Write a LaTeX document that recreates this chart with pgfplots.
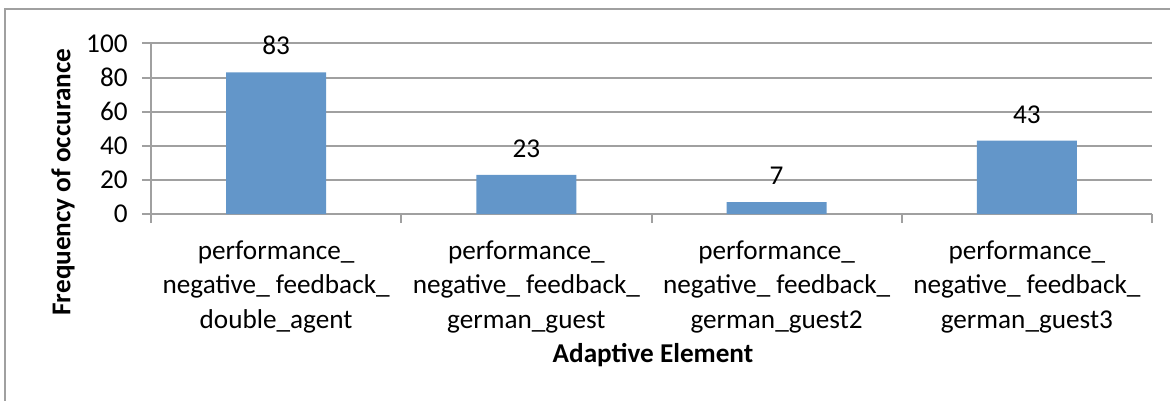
\documentclass[border=0pt]{standalone}
\usepackage{fontspec}
\setmainfont{Carlito}
\usepackage{pgfplots}
\pgfplotsset{compat=1.18}
\definecolor{barblue}{RGB}{99,150,201}
\definecolor{gridgray}{RGB}{160,160,160}
\begin{document}
\fontsize{13.6bp}{17.25bp}\selectfont
\begin{tikzpicture}
\useasboundingbox (-75.5bp,-93.5bp) rectangle (509.5bp,107bp);
\draw[gridgray, line width=1bp] (-73bp,-100bp) -- (-73bp,102.5bp) -- (520bp,102.5bp);
\begin{axis}[
    at={(0,0)}, anchor=south west,
    width=500.5bp, height=85.25bp, scale only axis,
    xmin=0.5, xmax=4.5, ymin=0, ymax=100,
    axis x line*=bottom, axis y line*=left,
    axis line style={gridgray, line width=1bp},
    every tick/.style={gridgray, line width=1bp},
    tick align=outside, major tick length=4.5bp,
    ymajorgrids, grid style={gridgray, line width=1bp},
    ytick={0,20,40,60,80,100},
    xtick={0.5,1.5,2.5,3.5,4.5}, xticklabels={},
    extra x ticks={1,2,3,4},
    extra x tick labels={performance\_\\negative\_ feedback\_\\double\_agent,
        performance\_\\negative\_ feedback\_\\german\_guest,
        performance\_\\negative\_ feedback\_\\german\_guest2,
        performance\_\\negative\_ feedback\_\\german\_guest3},
    extra x tick style={major tick length=0pt},
    xticklabel style={align=center, anchor=north, inner sep=0pt, yshift=-13bp,
        font=\fontsize{13.6bp}{17.25bp}\selectfont},
    yticklabel style={anchor=east, inner sep=0pt, xshift=-7bp,
        font=\fontsize{13.6bp}{15bp}\selectfont},
    /pgf/number format/assume math mode=true,
    ylabel={\textbf{Frequency of occurance}},
    xlabel={\textbf{Adaptive Element}},
    every axis y label/.style={at={(axis description cs:-0.0879,0.1877)},
        rotate=90, anchor=center, font=\fontsize{13.6bp}{15bp}\selectfont},
    every axis x label/.style={at={(axis description cs:0.5015,-0.827)},
        anchor=center, font=\fontsize{13.6bp}{15bp}\selectfont},
    ybar, bar width=0.4,
    nodes near coords,
    every node near coord/.append style={anchor=south, inner sep=0pt, yshift=8.5bp,
        font=\fontsize{13.6bp}{15bp}\selectfont, black},
]
\addplot[fill=barblue, draw=none] coordinates {(1,83) (2,23) (3,7) (4,43)};
\end{axis}
\end{tikzpicture}
\end{document}
